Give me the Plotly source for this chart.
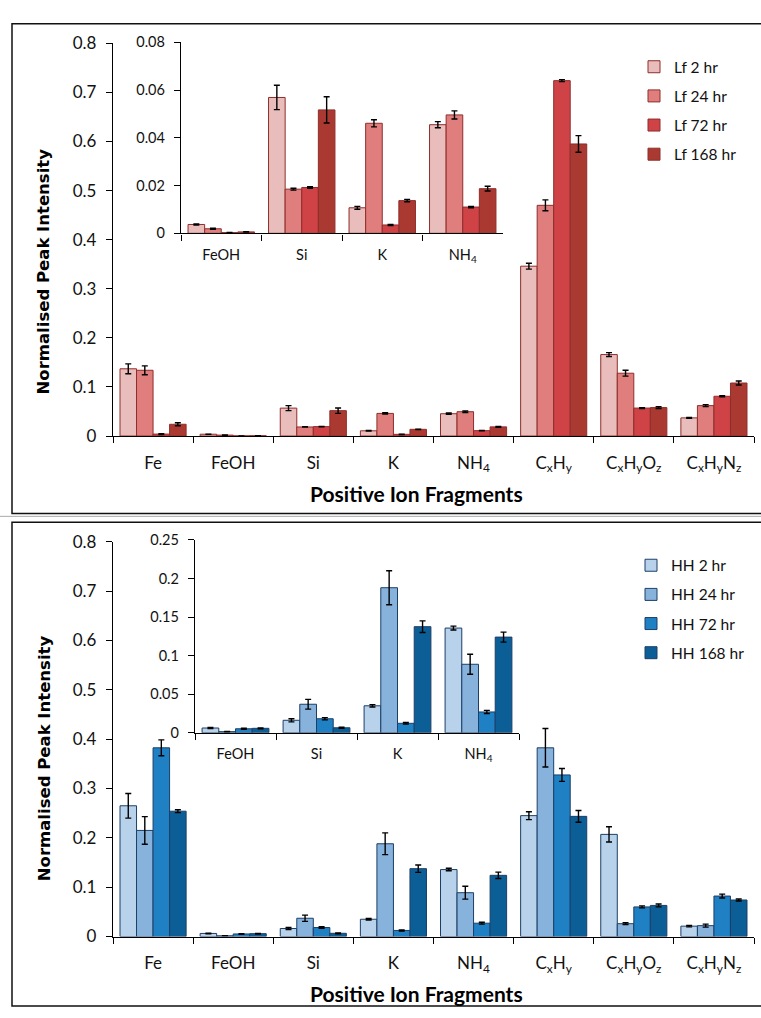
import plotly.graph_objects as go

# Fragment categories (main charts) and the subset shown in the insets
categories = ["Fe", "FeOH", "Si", "K", "NH4", "CxHy", "CxHyOz", "CxHyNz"]
category_labels = ["Fe", "FeOH", "Si", "K", "NH<sub>4</sub>", "C<sub>x</sub>H<sub>y</sub>",
                   "C<sub>x</sub>H<sub>y</sub>O<sub>z</sub>", "C<sub>x</sub>H<sub>y</sub>N<sub>z</sub>"]
inset_categories = ["FeOH", "Si", "K", "NH4"]

# Lf series: normalised peak intensity and error
lf_names = ["Lf 2 hr", "Lf 24 hr", "Lf 72 hr", "Lf 168 hr"]
lf_2 = [0.137, 0.0037, 0.0569, 0.0107, 0.0455, 0.346, 0.166, 0.037]
lf_24 = [0.134, 0.0019, 0.0185, 0.0461, 0.0496, 0.470, 0.128, 0.062]
lf_72 = [0.004, 0.0003, 0.0192, 0.0035, 0.0110, 0.724, 0.057, 0.081]
lf_168 = [0.024, 0.0006, 0.0517, 0.0137, 0.0187, 0.595, 0.058, 0.108]
lf_2_err = [0.010, 0.0002, 0.0051, 0.0006, 0.0013, 0.006, 0.004, 0.001]
lf_24_err = [0.009, 0.0002, 0.0004, 0.0015, 0.0017, 0.011, 0.006, 0.002]
lf_72_err = [0.001, 0.0001, 0.0003, 0.0002, 0.0003, 0.002, 0.001, 0.001]
lf_168_err = [0.003, 0.0001, 0.0055, 0.0005, 0.0010, 0.017, 0.002, 0.004]

# HH series
hh_names = ["HH 2 hr", "HH 24 hr", "HH 72 hr", "HH 168 hr"]
hh_2 = [0.265, 0.0062, 0.0162, 0.0350, 0.1357, 0.245, 0.207, 0.021]
hh_24 = [0.215, 0.0015, 0.0370, 0.188, 0.0888, 0.3825, 0.026, 0.022]
hh_72 = [0.3825, 0.0052, 0.0182, 0.0123, 0.0270, 0.3275, 0.060, 0.082]
hh_168 = [0.254, 0.0058, 0.0065, 0.1375, 0.1240, 0.2435, 0.063, 0.074]
hh_2_err = [0.025, 0.0006, 0.0020, 0.0015, 0.0025, 0.008, 0.0155, 0.0015]
hh_24_err = [0.028, 0.0003, 0.0063, 0.022, 0.0130, 0.039, 0.002, 0.003]
hh_72_err = [0.016, 0.0006, 0.0015, 0.0010, 0.0020, 0.013, 0.002, 0.004]
hh_168_err = [0.003, 0.0006, 0.0008, 0.0075, 0.0065, 0.012, 0.003, 0.002]

lf_colors = ["#E9BDBB", "#E07E7D", "#CF4347", "#AA3A31"]
lf_line = "#8E2E2C"
hh_colors = ["#B7D2EA", "#86B2DC", "#1F80C4", "#0C5E96"]
hh_line = "#1D3F66"

W, H = 761, 1018
def px(x): return x / W
def py(y): return 1 - y / H

fig = go.Figure()

def add_series(names, values, errors, colors, line, xa, ya, xa_in, ya_in, legend):
    for name, vals, errs, col in zip(names, values, errors, colors):
        common = dict(marker=dict(color=col, line=dict(color=line, width=1)))
        err = dict(type="data", array=errs, color="black", thickness=1.4, width=3)
        fig.add_trace(go.Bar(x=categories, y=vals, name=name, error_y=err,
                             xaxis=xa, yaxis=ya, legend=legend, legendgroup=name,
                             **common))
        idx = [categories.index(c) for c in inset_categories]
        fig.add_trace(go.Bar(x=inset_categories, y=[vals[k] for k in idx],
                             error_y=dict(err, array=[errs[k] for k in idx]),
                             xaxis=xa_in, yaxis=ya_in, showlegend=False,
                             name=name, **common))

add_series(lf_names, [lf_2, lf_24, lf_72, lf_168], [lf_2_err, lf_24_err, lf_72_err, lf_168_err],
           lf_colors, lf_line, "x", "y", "x2", "y2", "legend")
add_series(hh_names, [hh_2, hh_24, hh_72, hh_168], [hh_2_err, hh_24_err, hh_72_err, hh_168_err],
           hh_colors, hh_line, "x3", "y3", "x4", "y4", "legend2")

tick_font = dict(family="Lato, 'Open Sans', sans-serif", size=17, color="#111")
inset_font = dict(family="Lato, 'Open Sans', sans-serif", size=14.5, color="#111")

def xaxis_cfg(domain, anchor, cats, labels, font, standoff):
    return dict(domain=domain, anchor=anchor, type="category", categoryorder="array",
                categoryarray=cats, tickvals=cats, ticktext=labels, range=[-0.5, len(cats) - 0.5],
                ticks="outside", tickson="boundaries", ticklen=6, tickwidth=1.4, tickcolor="black",
                showline=True, linecolor="black", linewidth=1.4, showgrid=False, zeroline=False,
                tickfont=font, ticklabelstandoff=standoff, fixedrange=True)

def yaxis_cfg(domain, anchor, rng, dtick, font):
    return dict(domain=domain, anchor=anchor, range=rng, dtick=dtick, ticks="outside",
                ticklen=6, tickwidth=1.4, tickcolor="black", showline=True, linecolor="black",
                linewidth=1.4, showgrid=False, zeroline=False, tickfont=font,
                ticklabelstandoff=6, fixedrange=True)

inset_labels = [category_labels[categories.index(c)] for c in inset_categories]

legend_font = dict(family="Lato, sans-serif", size=15.5, color="#111")
main_x = [px(113), px(754)]
fig.update_layout(
    width=W, height=H, margin=dict(l=0, r=0, t=0, b=0),
    paper_bgcolor="white", plot_bgcolor="rgba(0,0,0,0)",
    barmode="group", bargap=0.175, bargroupgap=0,
    xaxis=xaxis_cfg(main_x, "y", categories, category_labels, tick_font, 11),
    yaxis=yaxis_cfg([py(434), py(33)], "x", [0, 0.8], 0.1, tick_font),
    xaxis2=xaxis_cfg([px(181), px(503)], "y2", inset_categories, inset_labels, inset_font, 8),
    yaxis2=yaxis_cfg([py(227), py(32)], "x2", [0, 0.08], 0.02, inset_font),
    xaxis3=xaxis_cfg(main_x, "y3", categories, category_labels, tick_font, 11),
    yaxis3=yaxis_cfg([py(945), py(542)], "x3", [0, 0.8], 0.1, tick_font),
    xaxis4=xaxis_cfg([px(195), px(519)], "y4", inset_categories, inset_labels, inset_font, 8),
    yaxis4=yaxis_cfg([py(737), py(540)], "x4", [0, 0.25], 0.05, inset_font),
    legend=dict(x=px(634), y=py(40), xanchor="left", yanchor="top", bgcolor="rgba(0,0,0,0)",
                font=legend_font, tracegroupgap=6, itemclick=False),
    legend2=dict(x=px(631), y=py(549), xanchor="left", yanchor="top", bgcolor="rgba(0,0,0,0)",
                 font=legend_font, tracegroupgap=6, itemclick=False),
    showlegend=True,
)

title_y = dict(family="DejaVu Sans, Verdana, sans-serif", size=16.5, color="black")
title_x = dict(family="Lato, sans-serif", size=21, color="black")
for cy, ty in [(266, 493), (763, 1003)]:
    fig.add_annotation(text="<b>Normalised Peak Intensity</b>", x=px(44), y=py(cy), xref="paper",
                       yref="paper", xanchor="center", yanchor="middle", textangle=-90,
                       showarrow=False, font=title_y)
    fig.add_annotation(text="<b>Positive Ion Fragments</b>", x=px(416), y=py(ty), xref="paper",
                       yref="paper", xanchor="center", yanchor="middle", showarrow=False,
                       font=title_x)

# Panel frames and the thin rule between the two panels
for y0, y1 in [(13, 513), (522, 1016)]:
    fig.add_shape(type="rect", xref="paper", yref="paper", x0=px(12), x1=px(775),
                  y0=py(y1), y1=py(y0), line=dict(color="#111", width=1.5))
fig.add_shape(type="line", xref="paper", yref="paper", x0=0, x1=1, y0=py(516), y1=py(516),
              line=dict(color="#AAAAAA", width=1))

fig.write_html("out.html")
